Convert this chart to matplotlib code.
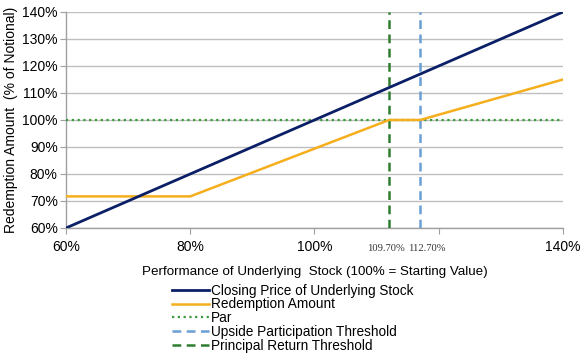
import matplotlib
matplotlib.use("Agg")
import matplotlib.pyplot as plt
from matplotlib.ticker import FuncFormatter

# Data
stock_x = [60, 140]
closing_price = [60, 140]
redemption_x = [60, 80, 112, 117, 140]
redemption_y = [71.7, 71.7, 100, 100, 115]
par_level = 100
upside_threshold_pos = 117
principal_threshold_pos = 112
threshold_labels = ["109.70%", "112.70%"]
x_ticks = [60, 80, 100, 120, 140]
x_tick_labels = ["60%", "80%", "100%", "", "140%"]
y_ticks = [60, 70, 80, 90, 100, 110, 120, 130, 140]

plt.rcParams['font.family'] = ['Liberation Sans', 'DejaVu Sans']

fig = plt.figure(figsize=(5.83, 3.56), dpi=100)
ax = fig.add_axes([0.1132, 0.3596, 0.9657 - 0.1132, 0.9663 - 0.3596])

navy = "#0B1F66"
orange = "#F5AE1C"
green_dot = "#3D9A3A"
blue_dash = "#6A9FD4"
green_dash = "#2E7D2E"

ax.plot(stock_x, closing_price, color=navy, lw=2.0, label="Closing Price of Underlying Stock", zorder=5)
ax.plot(redemption_x, redemption_y, color=orange, lw=1.8, label="Redemption Amount", zorder=4)
ax.axhline(par_level, color=green_dot, lw=1.6, ls=(0, (1, 1.6)), label="Par", zorder=3)
ax.axvline(upside_threshold_pos, color=blue_dash, lw=1.8, ls=(0, (3.5, 2.2)), label="Upside Participation Threshold", zorder=3)
ax.axvline(principal_threshold_pos, color=green_dash, lw=1.8, ls=(0, (3.5, 2.2)), label="Principal Return Threshold", zorder=3)

ax.set_xlim(60, 140)
ax.set_ylim(60, 140)
ax.set_yticks(y_ticks)
ax.yaxis.set_major_formatter(FuncFormatter(lambda v, p: f"{v:.0f}%"))
ax.set_xticks(x_ticks, labels=x_tick_labels)
ax.tick_params(axis='x', which='major', length=4, color="#A0A0A0", labelsize=10, pad=5)
ax.tick_params(axis='y', length=4, color="#A0A0A0", labelsize=10, pad=2)

# threshold labels under the vertical lines
trans = ax.get_xaxis_transform()
offsets = [-2, 4.5]
for xpos, lab, dx in zip([principal_threshold_pos, upside_threshold_pos], threshold_labels, offsets):
    ax.annotate(lab, xy=(xpos, 0), xycoords=trans, xytext=(dx, -15), textcoords='offset points',
                ha='center', va='center', fontsize=7.6, family='Liberation Serif', color="#333333")

ax.grid(axis='y', color="#BFBFBF", lw=1.0)
ax.set_axisbelow(True)
for s in ['top', 'right']:
    ax.spines[s].set_visible(False)
for s in ['left', 'bottom']:
    ax.spines[s].set_color("#A0A0A0")
    ax.spines[s].set_linewidth(1.0)

ax.set_ylabel("Redemption Amount  (% of Notional)", fontsize=10, labelpad=3)
ax.set_xlabel("Performance of Underlying  Stock (100% = Starting Value)", fontsize=9.6, labelpad=8)

fig.legend(loc='upper left', bbox_to_anchor=(0.295, 0.203), frameon=False,
           fontsize=9.8, handlelength=2.7, handletextpad=0.15, labelspacing=-0.02,
           borderpad=0, borderaxespad=0)

fig.savefig("out.png", dpi=100)
